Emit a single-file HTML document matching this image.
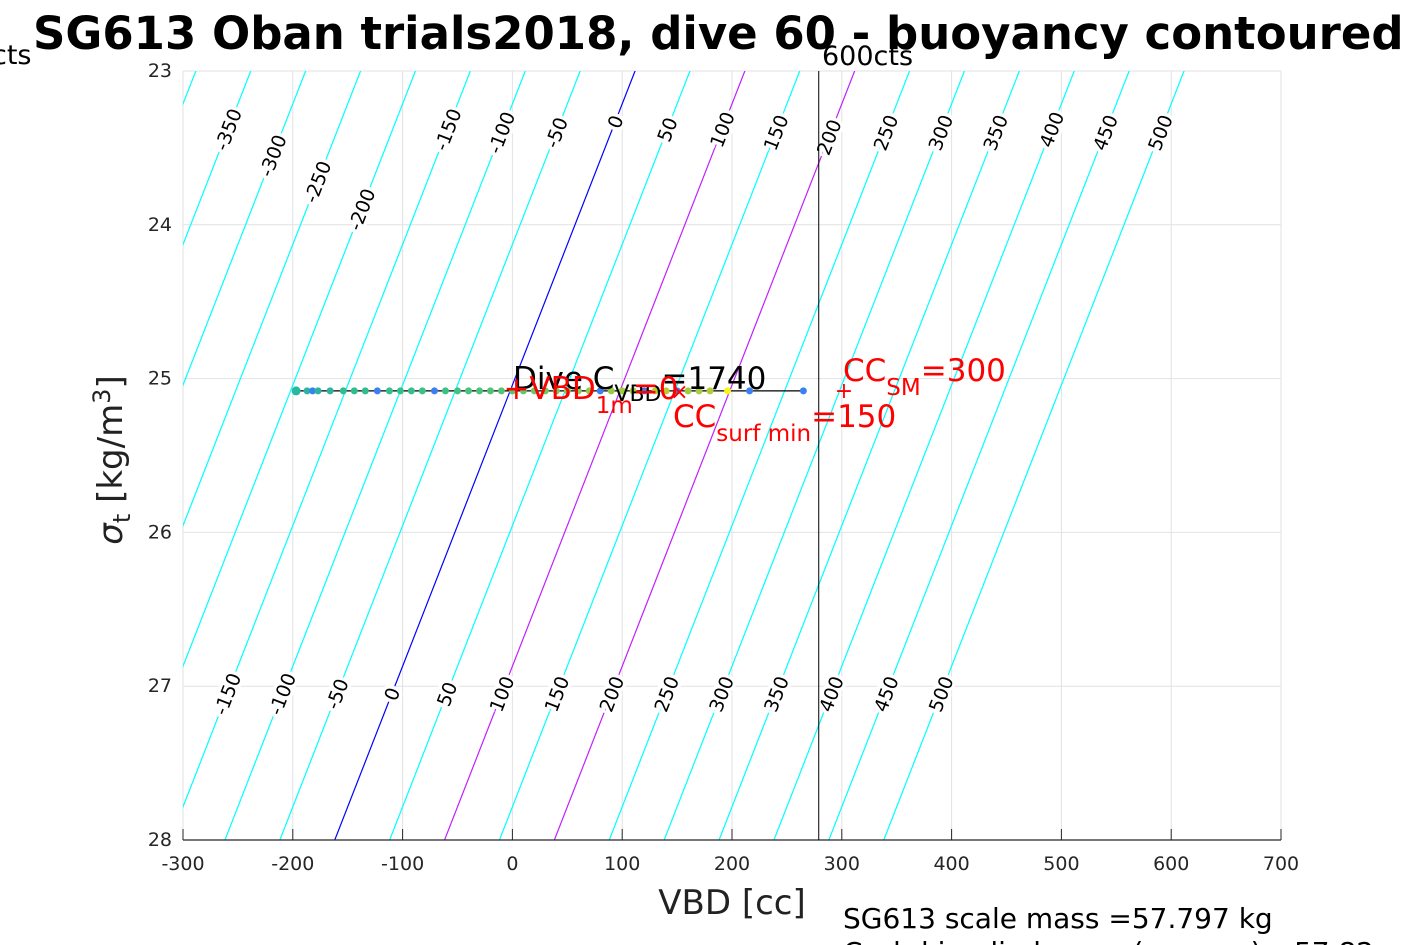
<!DOCTYPE html>
<html><head><meta charset="utf-8"><style>
body{margin:0;background:#fff;width:1417px;height:945px;overflow:hidden}
svg{display:block;font-family:"DejaVu Sans","Liberation Sans",sans-serif}
</style></head><body>
<svg id="chart" width="1417" height="945" viewBox="0 0 1417 945">
<defs><clipPath id="plotclip"><rect x="183" y="71" width="1098" height="769"/></clipPath></defs>
<g id="grid"></g>
<g id="contours" clip-path="url(#plotclip)"></g>
<g id="clabels"></g>
<g id="axes"></g>
<g id="series"></g>
<text x="33" y="49" font-size="45" font-weight="bold" fill="#000">SG613 Oban trials2018, dive 60 - buoyancy contoured</text>
<text x="-8" y="64" font-size="27" fill="#000">cts</text>
<text x="822" y="65" font-size="27" fill="#000">600cts</text>
<text x="732" y="914" font-size="34" fill="#222" text-anchor="middle">VBD [cc]</text>
<text transform="translate(122,460) rotate(-90)" font-size="34" fill="#222" text-anchor="middle"><tspan font-style="italic">σ</tspan><tspan font-size="24" dy="8">t</tspan><tspan dy="-8"> [kg/m</tspan><tspan font-size="24" dy="-12">3</tspan><tspan dy="12">]</tspan></text>
<text x="843" y="928" font-size="28" fill="#000">SG613 scale mass =57.797 kg</text>
<text x="843" y="962" font-size="28" fill="#000">C_vbd implied mass (sensors) =57.82</text>
</svg>
<script>
const xTicks=[-300,-200,-100,0,100,200,300,400,500,600,700];
const yTicks=[23,24,25,26,27,28];
const contourLevels=[-1000,-950,-900,-850,-800,-750,-700,-650,-600,-550,-500,-450,-400,-350,-300,-250,-200,-150,-100,-50,0,50,100,150,200,250,300,350,400,450,500];
const topLabelLevels=[-350,-300,-250,-200,-150,-100,-50,0,50,100,150,200,250,300,350,400,450,500];
const topLabelSigma=[23.38,23.55,23.72,23.9,23.38,23.4,23.4,23.33,23.38,23.38,23.4,23.43,23.4,23.4,23.4,23.38,23.4,23.4];
const bottomLabelLevels=[-150,-100,-50,0,50,100,150,200,250,300,350,400,450,500];
const diveVBD=[-197,-187,-182,-177,-166,-154,-144,-134,-123,-112,-102,-92,-82,-71,-61,-50,-40,-30,-20,-10,0,10,20,30,40,50,60,70,80,90,100,110,120,130,140,150,160,170,180,196,216,265];
const diveColors=["#27b8a3","#2bb59f","#3a80f0","#2bb59f","#2bb59f","#2fbd90","#2fbd90","#2fbd90","#3a80f0","#34c08a","#34c08a","#34c08a","#3ac285","#3a80f0","#3ac285","#40c380","#46c47c","#46c47c","#4cc578","#52c574","#58c670","#60c76b","#68c866","#70c960","#78c95a","#80ca55","#88cb50","#90cb4a","#3a80f0","#98cc45","#a0cc40","#a8cd3c","#3a80f0","#b0cd38","#b8ce34","#3a80f0","#a0cc40","#a8cd3c","#b0cd38","#f5f518","#3a80f0","#3a80f0"];
const diveSigma=25.08;
const vbdLimit=279;
const ccSM=300, ccSurf=150, vbd1m=0;

const NS="http://www.w3.org/2000/svg";
const X=v=>183+(v+300)*1098/1000;
const Y=s=>71+(s-23)*769/5;
const contourVBD=(b,s)=>111.7-54.7*(s-23)+b*1.0;
function mk(tag,attrs,parent){const e=document.createElementNS(NS,tag);for(const k in attrs)e.setAttribute(k,attrs[k]);parent.appendChild(e);return e;}
const grid=document.getElementById('grid'),axes=document.getElementById('axes'),cont=document.getElementById('contours'),cl=document.getElementById('clabels'),ser=document.getElementById('series');

xTicks.forEach(t=>{
  const g=mk('line',{x1:X(t),x2:X(t),y1:71,y2:840,stroke:'#e2e2e2','stroke-width':1},grid);
  
  
  const tk=mk('line',{x1:X(t),x2:X(t),y1:840,y2:829,stroke:'#262626','stroke-width':1},axes);
  
  
  const tl=mk('text',{x:X(t),y:870,'font-size':19,fill:'#262626','text-anchor':'middle'},axes);
  tl.textContent=t;
  
  
});
yTicks.forEach(t=>{
  const g=mk('line',{x1:183,x2:1281,y1:Y(t),y2:Y(t),stroke:'#e2e2e2','stroke-width':1},grid);
  
  
  const tl=mk('text',{x:172,y:Y(t)+6,'font-size':19,fill:'#262626','text-anchor':'end'},axes);
  tl.textContent=t;
  
  
});
const xa=mk('line',{x1:183,x2:1281,y1:840,y2:840,stroke:'#262626','stroke-width':1.3},axes);



contourLevels.forEach(b=>{
  const col=b===0?'#0000ff':(b===100||b===200)?'#c020ff':'#00ffff';
  const l=mk('line',{x1:X(contourVBD(b,22.5)),y1:Y(22.5),x2:X(contourVBD(b,28.5)),y2:Y(28.5),stroke:col,'stroke-width':1.2},cont);
  
  
});
function label(b,s){
  const x=X(contourVBD(b,s)),y=Y(s);
  const t=mk('text',{x:0,y:7,'font-size':19,fill:'#000','text-anchor':'middle',stroke:'#fff','stroke-width':7,'paint-order':'stroke',transform:`translate(${x},${y}) rotate(-68.7)`},cl);
  t.textContent=b;
  
  
}
topLabelLevels.forEach((b,i)=>label(b,topLabelSigma[i]));
bottomLabelLevels.forEach(b=>label(b,27.05));

const vl=mk('line',{x1:X(vbdLimit),x2:X(vbdLimit),y1:71,y2:840,stroke:'#000','stroke-width':1},ser);


const yd=Y(diveSigma);
const tl=mk('line',{x1:X(diveVBD[0]),x2:X(diveVBD[diveVBD.length-1]),y1:yd,y2:yd,stroke:'#000','stroke-width':1.2},ser);


diveVBD.forEach((v,i)=>{
  const c=mk('circle',{cx:X(v),cy:yd,r:i===0?4.5:3.5,fill:diveColors[i]},ser);
  
  
});
function txt(html,x,y,size,fill,name){
  const t=mk('text',{x:x,y:y,'font-size':size,fill:fill},ser);
  t.innerHTML=html;
  
  
}
txt('Dive C<tspan font-size="22" dy="12">VBD</tspan><tspan dy="-12">=1740</tspan>',513,389,31,'#000','dive-cvbd-annotation');
txt('+VBD<tspan font-size="23" dy="14">1m</tspan><tspan dy="-14">='+vbd1m+'</tspan>',X(vbd1m)-9,399,31,'#ff0000','vbd-1m-annotation');
txt('×',X(ccSurf)-7,399,22,'#ff0000','cc-surf-marker');
txt('CC<tspan font-size="23" dy="14">surf min</tspan><tspan dy="-14">='+ccSurf+'</tspan>',673,427,31,'#ff0000','cc-surf-annotation');
txt('+',X(ccSM)-7,398,22,'#ff0000','cc-sm-marker');
txt('CC<tspan font-size="23" dy="14">SM</tspan><tspan dy="-14">='+ccSM+'</tspan>',843,381,31,'#ff0000','cc-sm-annotation');
</script>
</body></html>
